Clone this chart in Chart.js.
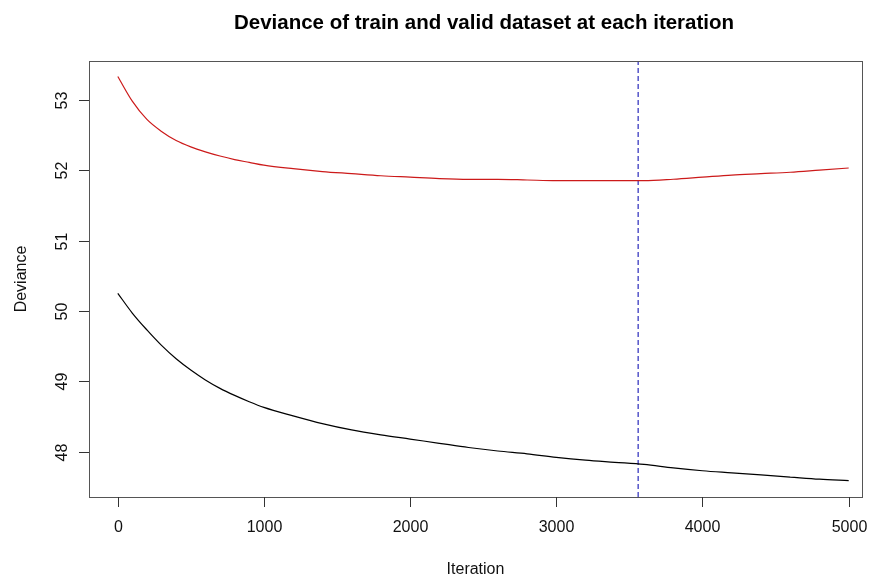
<!DOCTYPE html>
<html>
<head>
<meta charset="utf-8">
<script src="https://cdn.jsdelivr.net/npm/chart.js@4/dist/chart.umd.min.js"></script>
<style>
  html, body { margin: 0; padding: 0; background: #ffffff; }
  #c { display: block; }
</style>
</head>
<body>
<canvas id="c" width="874" height="578"></canvas>
<script>
// ---- data ----
const iterations = [1, 100, 200, 300, 400, 500, 600, 700, 800, 900, 1000, 1200, 1400, 1600, 1800, 2000,
  2200, 2400, 2600, 2800, 3000, 3200, 3400, 3600, 3800, 4000, 4200, 4400, 4600, 4800, 5000];
const trainDeviance = [50.25, 49.97, 49.73, 49.51, 49.32, 49.16, 49.02, 48.90, 48.80, 48.71, 48.63, 48.51,
  48.40, 48.31, 48.24, 48.18, 48.12, 48.06, 48.01, 47.97, 47.92, 47.88, 47.85, 47.82, 47.77, 47.73,
  47.70, 47.67, 47.64, 47.61, 47.59];
const validDeviance = [53.33, 52.98, 52.72, 52.55, 52.42, 52.33, 52.26, 52.20, 52.15, 52.11, 52.07, 52.02,
  51.98, 51.95, 51.92, 51.90, 51.88, 51.87, 51.87, 51.86, 51.85, 51.85, 51.85, 51.85, 51.87, 51.90,
  51.93, 51.95, 51.97, 52.00, 52.03];
const bestIteration = [3560];
const xTicks = [0, 1000, 2000, 3000, 4000, 5000];
const yTicks = [48, 49, 50, 51, 52, 53];
const titleText = "Deviance of train and valid dataset at each iteration";
const xLabel = "Iteration";
const yLabel = "Deviance";

const FONT = "'Liberation Sans', Arial, sans-serif";
const X_MIN = -196, X_MAX = 5091, Y_MIN = 47.357, Y_MAX = 53.55;

const pts = (xs, ys) => xs.map((x, i) => ({ x: x, y: ys[i] }));

const rAxes = {
  id: 'rAxes',
  afterDraw(chart) {
    const ctx = chart.ctx;
    const a = chart.chartArea;
    const xs = chart.scales.x, ys = chart.scales.y;
    ctx.save();
    // box
    ctx.strokeStyle = '#555555';
    ctx.lineWidth = 1;
    ctx.strokeRect(Math.round(a.left) + 0.5, Math.round(a.top) + 0.5,
      Math.round(a.right - a.left), Math.round(a.bottom - a.top));
    // x ticks
    ctx.strokeStyle = '#333333';
    ctx.fillStyle = '#111111';
    ctx.font = '16px ' + FONT;
    ctx.textAlign = 'center';
    ctx.textBaseline = 'middle';
    xTicks.forEach(v => {
      const px = Math.round(xs.getPixelForValue(v)) + 0.5;
      ctx.beginPath();
      ctx.moveTo(px, a.bottom);
      ctx.lineTo(px, a.bottom + 10);
      ctx.stroke();
      ctx.fillText(String(v), px, a.bottom + 31);
    });
    // y ticks
    yTicks.forEach(v => {
      const py = Math.round(ys.getPixelForValue(v)) + 0.5;
      ctx.beginPath();
      ctx.moveTo(a.left, py);
      ctx.lineTo(a.left - 10, py);
      ctx.stroke();
      ctx.save();
      ctx.translate(a.left - 26, py);
      ctx.rotate(-Math.PI / 2);
      ctx.fillText(String(v), 0, 0);
      ctx.restore();
    });
    // axis titles
    ctx.fillText(xLabel, (a.left + a.right) / 2, 570);
    ctx.save();
    ctx.translate(22, (a.top + a.bottom) / 2);
    ctx.rotate(-Math.PI / 2);
    ctx.fillText(yLabel, 0, 0);
    ctx.restore();
    // main title
    ctx.font = 'bold 20.5px ' + FONT;
    ctx.fillStyle = '#000000';
    ctx.fillText(titleText, 484, 23);
    ctx.restore();
  }
};

new Chart(document.getElementById('c'), {
  type: 'scatter',
  data: {
    datasets: [
      {
        label: 'valid',
        data: pts(iterations, validDeviance),
        showLine: true,
        borderColor: '#cc1a1a',
        borderWidth: 1.2,
        pointRadius: 0,
        cubicInterpolationMode: 'monotone',
        fill: false
      },
      {
        label: 'train',
        data: pts(iterations, trainDeviance),
        showLine: true,
        borderColor: '#000000',
        borderWidth: 1.2,
        pointRadius: 0,
        cubicInterpolationMode: 'monotone',
        fill: false
      },
      {
        label: 'best',
        data: [{ x: bestIteration[0], y: Y_MIN }, { x: bestIteration[0], y: Y_MAX }],
        showLine: true,
        borderColor: '#3a3ac0',
        borderWidth: 1.3,
        borderDash: [5, 3],
        pointRadius: 0,
        fill: false
      }
    ]
  },
  options: {
    responsive: false,
    devicePixelRatio: 1,
    animation: false,
    layout: { padding: { left: 89, top: 61, right: 12, bottom: 81 } },
    plugins: { legend: { display: false }, tooltip: { enabled: false }, title: { display: false } },
    scales: {
      x: { type: 'linear', display: false, min: X_MIN, max: X_MAX },
      y: { type: 'linear', display: false, min: Y_MIN, max: Y_MAX }
    }
  },
  plugins: [rAxes]
});
</script>
</body>
</html>
